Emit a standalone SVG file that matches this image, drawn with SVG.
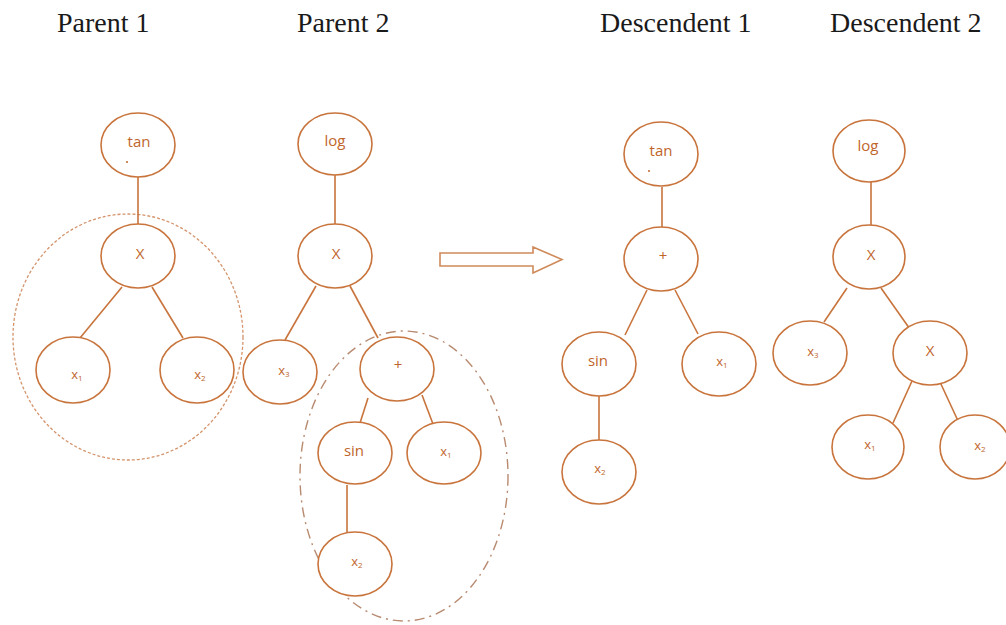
<svg xmlns="http://www.w3.org/2000/svg" width="1006" height="625" viewBox="0 0 1006 625">
<style>
.t{font-family:"Liberation Serif",serif;font-size:28px;fill:#1a1a1a}
.n ellipse{fill:#fff;stroke:#c8743c;stroke-width:1.6}
.n text{font-family:"Open Sans","Liberation Sans",sans-serif;font-size:15px;fill:#c0652a;text-anchor:middle;dominant-baseline:central}
.n text.v{font-size:13px}
.s{font-size:8px}
.e line{stroke:#c8743c;stroke-width:1.6}
.dot{fill:#c0652a}
</style>
<rect width="1006" height="625" fill="#fff"/>
<g id="titles">
<text class="t" x="57" y="32">Parent 1</text>
<text class="t" x="297" y="32">Parent 2</text>
<text class="t" x="600" y="32">Descendent 1</text>
<text class="t" x="830" y="32">Descendent 2</text>
</g>
<g id="selections" fill="none">
<ellipse cx="128" cy="337" rx="115" ry="123" stroke="#d4936a" stroke-width="1.3" stroke-dasharray="3 2"/>
<ellipse cx="404" cy="476" rx="104" ry="145" stroke="#b88a70" stroke-width="1.4" stroke-dasharray="10 5 2 5"/>
</g>
<g id="connectors" class="e">
<line x1="138" y1="177" x2="138" y2="225"/>
<line x1="122" y1="287" x2="80" y2="338"/>
<line x1="152" y1="287" x2="183" y2="338"/>
<line x1="335" y1="175" x2="335" y2="225"/>
<line x1="316" y1="286" x2="285" y2="340"/>
<line x1="350" y1="286" x2="378" y2="338"/>
<line x1="368" y1="398" x2="360" y2="423"/>
<line x1="422" y1="395" x2="433" y2="424"/>
<line x1="347" y1="485" x2="347" y2="533"/>
<line x1="662" y1="187" x2="662" y2="227"/>
<line x1="647" y1="290" x2="625" y2="335"/>
<line x1="675" y1="290" x2="698" y2="334"/>
<line x1="599" y1="396" x2="599" y2="440"/>
<line x1="871" y1="182" x2="871" y2="226"/>
<line x1="847" y1="288" x2="824" y2="322"/>
<line x1="881" y1="288" x2="912" y2="332"/>
<line x1="912" y1="381" x2="893" y2="423"/>
<line x1="940" y1="382" x2="959" y2="423"/>
<polygon points="440,253 533,253 533,247 562,259.5 533,273 533,266 440,266" fill="#fff" stroke="#d08a5a" stroke-width="1.6"/>
</g>
<g id="p1-tan" class="n"><ellipse cx="138" cy="145" rx="37" ry="32"/><text x="139" y="141">tan</text><circle class="dot" cx="127" cy="162" r="1"/></g>
<g id="p1-mul" class="n"><ellipse cx="138" cy="256" rx="37" ry="32"/><text x="140" y="253">X</text></g>
<g id="p1-x1" class="n"><ellipse cx="73" cy="370" rx="37" ry="33"/><text class="v" x="77" y="374">x<tspan class="s" dy="3">1</tspan></text></g>
<g id="p1-x2" class="n"><ellipse cx="197" cy="370" rx="37" ry="33"/><text class="v" x="200" y="374">x<tspan class="s" dy="3">2</tspan></text></g>
<g id="p2-log" class="n"><ellipse cx="335" cy="144" rx="37" ry="31"/><text x="335" y="140">log</text></g>
<g id="p2-mul" class="n"><ellipse cx="335" cy="256" rx="37" ry="32"/><text x="336" y="253">X</text></g>
<g id="p2-x3" class="n"><ellipse cx="280" cy="372" rx="37" ry="32"/><text class="v" x="284" y="370">x<tspan class="s" dy="3">3</tspan></text></g>
<g id="p2-plus" class="n"><ellipse cx="397" cy="369" rx="37" ry="32"/><text x="398" y="364" font-size="12">+</text></g>
<g id="p2-sin" class="n"><ellipse cx="355" cy="453" rx="37" ry="31"/><text x="354" y="450">sin</text></g>
<g id="p2-x1" class="n"><ellipse cx="444" cy="453" rx="37" ry="31"/><text class="v" x="446" y="451">x<tspan class="s" dy="3">1</tspan></text></g>
<g id="p2-x2" class="n"><ellipse cx="355" cy="564" rx="37" ry="32"/><text class="v" x="357" y="561">x<tspan class="s" dy="3">2</tspan></text></g>
<g id="d1-tan" class="n"><ellipse cx="661" cy="154" rx="37" ry="32"/><text x="661" y="150">tan</text><circle class="dot" cx="649" cy="171" r="1"/></g>
<g id="d1-plus" class="n"><ellipse cx="661" cy="259" rx="37" ry="32"/><text x="663" y="255" font-size="12">+</text></g>
<g id="d1-sin" class="n"><ellipse cx="599" cy="364" rx="37" ry="32"/><text x="598" y="360">sin</text></g>
<g id="d1-x1" class="n"><ellipse cx="719" cy="364" rx="37" ry="32"/><text class="v" x="722" y="361">x<tspan class="s" dy="3">1</tspan></text></g>
<g id="d1-x2" class="n"><ellipse cx="599" cy="472" rx="37" ry="32"/><text class="v" x="600" y="468">x<tspan class="s" dy="3">2</tspan></text></g>
<g id="d2-log" class="n"><ellipse cx="869" cy="151" rx="36" ry="31"/><text x="868" y="145">log</text></g>
<g id="d2-mul" class="n"><ellipse cx="869" cy="257" rx="36" ry="32"/><text x="871" y="254">X</text></g>
<g id="d2-x3" class="n"><ellipse cx="810" cy="353" rx="37" ry="32"/><text class="v" x="813" y="351">x<tspan class="s" dy="3">3</tspan></text></g>
<g id="d2-mul2" class="n"><ellipse cx="930" cy="353" rx="37" ry="32"/><text x="930" y="350">X</text></g>
<g id="d2-x1" class="n"><ellipse cx="868" cy="447" rx="36" ry="32"/><text class="v" x="870" y="444">x<tspan class="s" dy="3">1</tspan></text></g>
<g id="d2-x2" class="n"><ellipse cx="975" cy="447" rx="35" ry="32"/><text class="v" x="980" y="445">x<tspan class="s" dy="3">2</tspan></text></g>
</svg>
